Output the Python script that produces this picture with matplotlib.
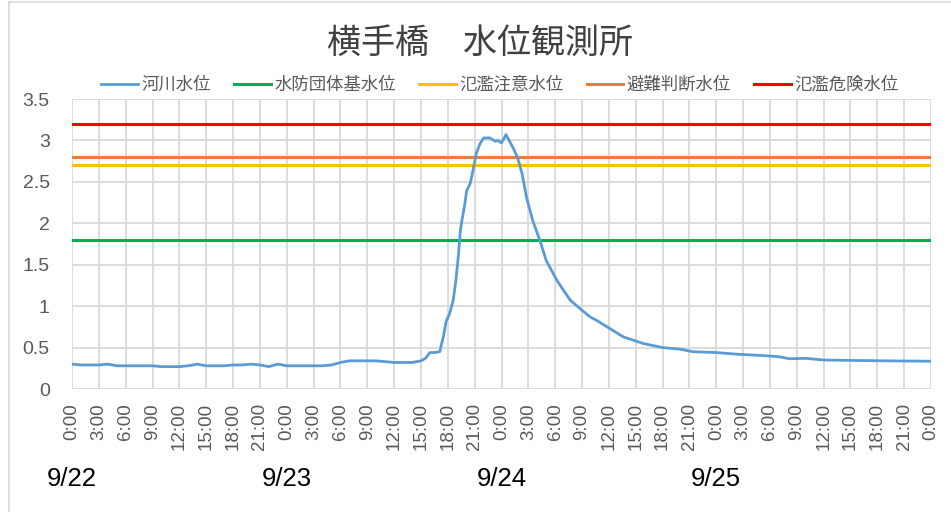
#!/usr/bin/env python3

import matplotlib
matplotlib.use('Agg')
import matplotlib.pyplot as plt
from matplotlib.lines import Line2D

# hours since 9/22 0:00 and river level (m)
hours = [0, 1, 2, 3, 4, 5, 6, 7, 8, 9, 10, 11, 12, 13, 14, 15, 16, 17, 18, 19,
         20, 21, 22, 23, 24, 25, 26, 27, 28, 29, 30, 31, 32, 33, 34, 35, 36, 37,
         38, 39, 39.5, 40, 40.5, 41.1, 41.5, 41.8, 42.2, 42.6, 42.9, 43.2, 43.4,
         43.6, 43.9, 44.1, 44.5, 44.8, 45.2, 45.6, 46.0, 46.7, 47.3, 47.6, 48.0,
         48.5, 48.9, 49.3, 49.8, 50.3, 50.8, 51.5, 52.3, 53.0, 53.5, 54.2, 55.0,
         55.7, 57.0, 57.9, 58.6, 59.8, 61.6, 63.8, 66, 68, 69.4, 72, 74.3, 77,
         79, 80.2, 82, 84, 87, 91, 96]
levels = [0.30, 0.29, 0.29, 0.29, 0.30, 0.28, 0.28, 0.28, 0.28, 0.28, 0.27,
          0.27, 0.27, 0.28, 0.30, 0.28, 0.28, 0.28, 0.29, 0.29, 0.30, 0.29,
          0.27, 0.30, 0.28, 0.28, 0.28, 0.28, 0.28, 0.29, 0.32, 0.34, 0.34,
          0.34, 0.34, 0.33, 0.32, 0.32, 0.32, 0.34, 0.37, 0.44, 0.44, 0.45,
          0.63, 0.81, 0.91, 1.07, 1.31, 1.63, 1.91, 2.05, 2.23, 2.39, 2.48,
          2.63, 2.85, 2.96, 3.03, 3.03, 2.99, 3.00, 2.97, 3.07, 2.99, 2.91,
          2.79, 2.60, 2.31, 2.03, 1.79, 1.55, 1.45, 1.31, 1.18, 1.07, 0.95,
          0.87, 0.83, 0.75, 0.63, 0.55, 0.50, 0.48, 0.45, 0.44, 0.42, 0.405,
          0.39, 0.365, 0.37, 0.35, 0.345, 0.34, 0.335]

thresholds = [1.8, 2.7, 2.8, 3.2]
threshold_labels = ['水防団体基水位', '氾濫注意水位', '避難判断水位', '氾濫危険水位']
threshold_colors = ['#00B050', '#FFC000', '#ED7D31', '#FF0000']

tick_hours = list(range(0, 97, 3))
tick_labels = ['%d:00' % (h % 24) for h in tick_hours]
day_labels = ['9/22', '9/23', '9/24', '9/25']

plt.rcParams['font.family'] = ['Liberation Sans', 'Noto Sans CJK JP', 'DejaVu Sans']
cjk = ['Noto Sans CJK JP', 'DejaVu Sans']

fig = plt.figure(figsize=(9.51, 5.12), dpi=100)
ax = fig.add_axes([72 / 951, 1 - 389 / 512, (931 - 72) / 951, (389 - 99) / 512])

ax.plot(hours, levels, color='#5B9BD5', lw=2.0, label='河川水位', zorder=4)
for val, lab, col in zip(thresholds, threshold_labels, threshold_colors):
    ax.plot([0, 96], [val, val], color=col, lw=2.2, label=lab, zorder=3)

ax.set_xlim(0, 96)
ax.set_ylim(0, 3.5)
ax.set_xticks(tick_hours)
ax.set_xticklabels(tick_labels, rotation=90, fontsize=13.5, color='#595959')
ax.set_yticks([0, 0.5, 1, 1.5, 2, 2.5, 3, 3.5])
ax.set_yticklabels(['0', '0.5', '1', '1.5', '2', '2.5', '3', '3.5'],
                   fontsize=14, color='#595959')
ax.tick_params(length=0)
ax.tick_params(axis='x', pad=10)
ax.tick_params(axis='y', pad=16)
ax.grid(True, color='#d9d9d9', lw=1.3)
ax.set_axisbelow(True)
for s in ax.spines.values():
    s.set_visible(False)

day_y = -(479 - 389) / (389 - 99)
for i, d in enumerate(day_labels):
    ax.text(i * 24, day_y, d, transform=ax.get_xaxis_transform(), ha='center',
            va='center', fontsize=18.5, color='black')

fig.text(480 / 951, 1 - 43 / 512, '横手橋　水位観測所', family=cjk,
         fontsize=24.5, color='#404040', ha='center', va='center')

fig.legend(loc='center', bbox_to_anchor=(500 / 951, 1 - 85 / 512), ncol=5,
           frameon=False, handlelength=2.1, columnspacing=1.35,
           handletextpad=0.2, labelcolor='#595959',
           prop={'family': cjk, 'size': 12.5})

fig.add_artist(Line2D([9 / 951, 9 / 951], [0, 1 - 1.5 / 512],
                      transform=fig.transFigure, color='#d9d9d9', lw=1.2))
fig.add_artist(Line2D([9 / 951, 1], [1 - 1.5 / 512, 1 - 1.5 / 512],
                      transform=fig.transFigure, color='#d9d9d9', lw=1.2))

fig.savefig('out.png', dpi=100)
